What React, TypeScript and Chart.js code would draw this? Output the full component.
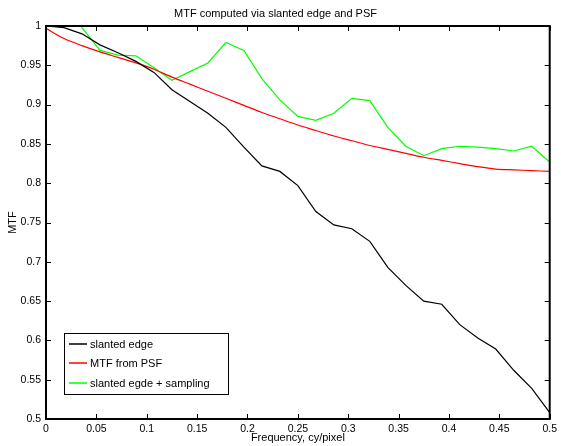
import React, { useEffect, useRef } from "react";
import { Chart, registerables } from "chart.js";

Chart.register(...registerables);

const frequencies: number[] = Array.from({ length: 29 }, (_, k) => k / 56);

const slantedEdge: number[] = [
  1.0, 0.998, 0.99, 0.976, 0.966, 0.955, 0.941, 0.919, 0.904, 0.889, 0.871,
  0.846, 0.822, 0.815, 0.797, 0.764, 0.747, 0.742, 0.726, 0.693, 0.67, 0.65,
  0.646, 0.62, 0.603, 0.589, 0.562, 0.539, 0.508,
];

const mtfFromPsf: number[] = [
  0.997, 0.984, 0.975, 0.967, 0.96, 0.953, 0.945, 0.935, 0.926, 0.917, 0.908,
  0.899, 0.89, 0.882, 0.874, 0.867, 0.86, 0.854, 0.848, 0.843, 0.838, 0.833,
  0.829, 0.825, 0.821, 0.818, 0.817, 0.816, 0.815,
];

const edgeSampling: number[] = [
  1.0, 1.03, 0.998, 0.969, 0.963, 0.962, 0.947, 0.931, 0.942, 0.953, 0.979,
  0.969, 0.933, 0.906, 0.885, 0.88, 0.889, 0.908, 0.905, 0.871, 0.847, 0.835,
  0.844, 0.847, 0.846, 0.844, 0.841, 0.847, 0.827,
];

const xTicks: number[] = [0, 0.05, 0.1, 0.15, 0.2, 0.25, 0.3, 0.35, 0.4, 0.45, 0.5];
const yTicks: number[] = [0.5, 0.55, 0.6, 0.65, 0.7, 0.75, 0.8, 0.85, 0.9, 0.95, 1];

const seriesNames: string[] = ["slanted edge", "MTF from PSF", "slanted egde + sampling"];
const seriesColors: string[] = ["#000000", "#ff0000", "#00ff00"];

const FONT = "Liberation Sans, Arial, Helvetica, sans-serif";

const boxPlugin = {
  id: "matlabBox",
  afterDatasetsDraw(chart: any) {
    const { ctx, chartArea } = chart;
    const xs = chart.scales.x;
    const ys = chart.scales.y;
    const { left, right, top, bottom } = chartArea;
    ctx.save();
    ctx.strokeStyle = "#000";
    ctx.lineWidth = 1;
    const tl = 5;
    ctx.beginPath();
    for (const v of xTicks) {
      const px = Math.round(xs.getPixelForValue(v)) + 0.5;
      ctx.moveTo(px, bottom);
      ctx.lineTo(px, bottom - tl);
      ctx.moveTo(px, top);
      ctx.lineTo(px, top + tl);
    }
    for (const v of yTicks) {
      const py = Math.round(ys.getPixelForValue(v)) + 0.5;
      ctx.moveTo(left, py);
      ctx.lineTo(left + tl, py);
      ctx.moveTo(right, py);
      ctx.lineTo(right - tl, py);
    }
    ctx.stroke();
    ctx.lineWidth = 2;
    ctx.strokeRect(left, top, right - left, bottom - top);

    // legend
    const lx = 64.5, ly = 333.5, lw = 164, lh = 61;
    ctx.fillStyle = "#fff";
    ctx.fillRect(lx, ly, lw, lh);
    ctx.lineWidth = 1;
    ctx.strokeStyle = "#000";
    ctx.strokeRect(lx, ly, lw, lh);
    const rows = [344, 363, 383];
    ctx.font = `11px ${FONT}`;
    ctx.textBaseline = "middle";
    ctx.textAlign = "left";
    seriesNames.forEach((name, i) => {
      ctx.strokeStyle = seriesColors[i];
      ctx.lineWidth = 1.5;
      ctx.beginPath();
      ctx.moveTo(69, rows[i]);
      ctx.lineTo(87, rows[i]);
      ctx.stroke();
      ctx.fillStyle = "#000";
      ctx.fillText(name, 90, rows[i] + 0.5);
    });
    ctx.restore();
  },
};

export default function App() {
  const canvasRef = useRef<HTMLCanvasElement | null>(null);

  useEffect(() => {
    if (!canvasRef.current) return;
    const data = {
      datasets: [slantedEdge, mtfFromPsf, edgeSampling].map((vals, i) => ({
        label: seriesNames[i],
        data: frequencies.map((f, k) => ({ x: f, y: vals[k] })),
        borderColor: seriesColors[i],
        backgroundColor: seriesColors[i],
        borderWidth: 1.2,
        pointRadius: 0,
        tension: i === 1 ? 0.3 : 0,
        clip: 0,
      })),
    };
    const chart = new Chart(canvasRef.current, {
      type: "line",
      data,
      plugins: [boxPlugin],
      options: {
        animation: false,
        responsive: false,
        maintainAspectRatio: false,
        layout: { padding: { top: 0, right: 10, left: 0, bottom: 0 } },
        plugins: {
          legend: { display: false },
          tooltip: { enabled: false },
          title: {
            display: true,
            text: "MTF computed via slanted edge and PSF",
            color: "#000",
            font: { family: FONT, size: 11, weight: "normal" },
            padding: { top: 7.4, bottom: 5.4 },
          },
        },
        scales: {
          x: {
            type: "linear",
            min: 0,
            max: 0.5,
            afterBuildTicks: (s: any) => {
              s.ticks = xTicks.map((v) => ({ value: v }));
            },
            afterFit: (s: any) => {
              s.height = 27;
            },
            grid: { display: false, drawTicks: false },
            border: { display: false },
            ticks: {
              color: "#000",
              padding: 4,
              maxRotation: 0,
              autoSkip: false,
              font: { family: FONT, size: 10.5 },
              callback: (v: any) => String(Number(v)),
            },
            title: {
              display: true,
              text: "Frequency, cy/pixel",
              color: "#000",
              font: { family: FONT, size: 11 },
              padding: { top: 0, bottom: 1 },
            },
          },
          y: {
            type: "linear",
            min: 0.5,
            max: 1,
            afterBuildTicks: (s: any) => {
              s.ticks = yTicks.map((v) => ({ value: v }));
            },
            afterFit: (s: any) => {
              s.width = 46;
            },
            grid: { display: false, drawTicks: false },
            border: { display: false },
            ticks: {
              color: "#000",
              padding: 5,
              autoSkip: false,
              font: { family: FONT, size: 10.5 },
              callback: (v: any) => String(Number(v)),
            },
            title: {
              display: true,
              text: "MTF",
              color: "#000",
              font: { family: FONT, size: 11 },
              padding: { top: 6, bottom: 0 },
            },
          },
        },
      },
    });
    return () => chart.destroy();
  }, []);

  return (
    <div style={{ position: "fixed", left: 0, top: 0, width: 561, height: 446, background: "#fff" }}>
      <canvas ref={canvasRef} width={561} height={446} style={{ display: "block" }} />
    </div>
  );
}
